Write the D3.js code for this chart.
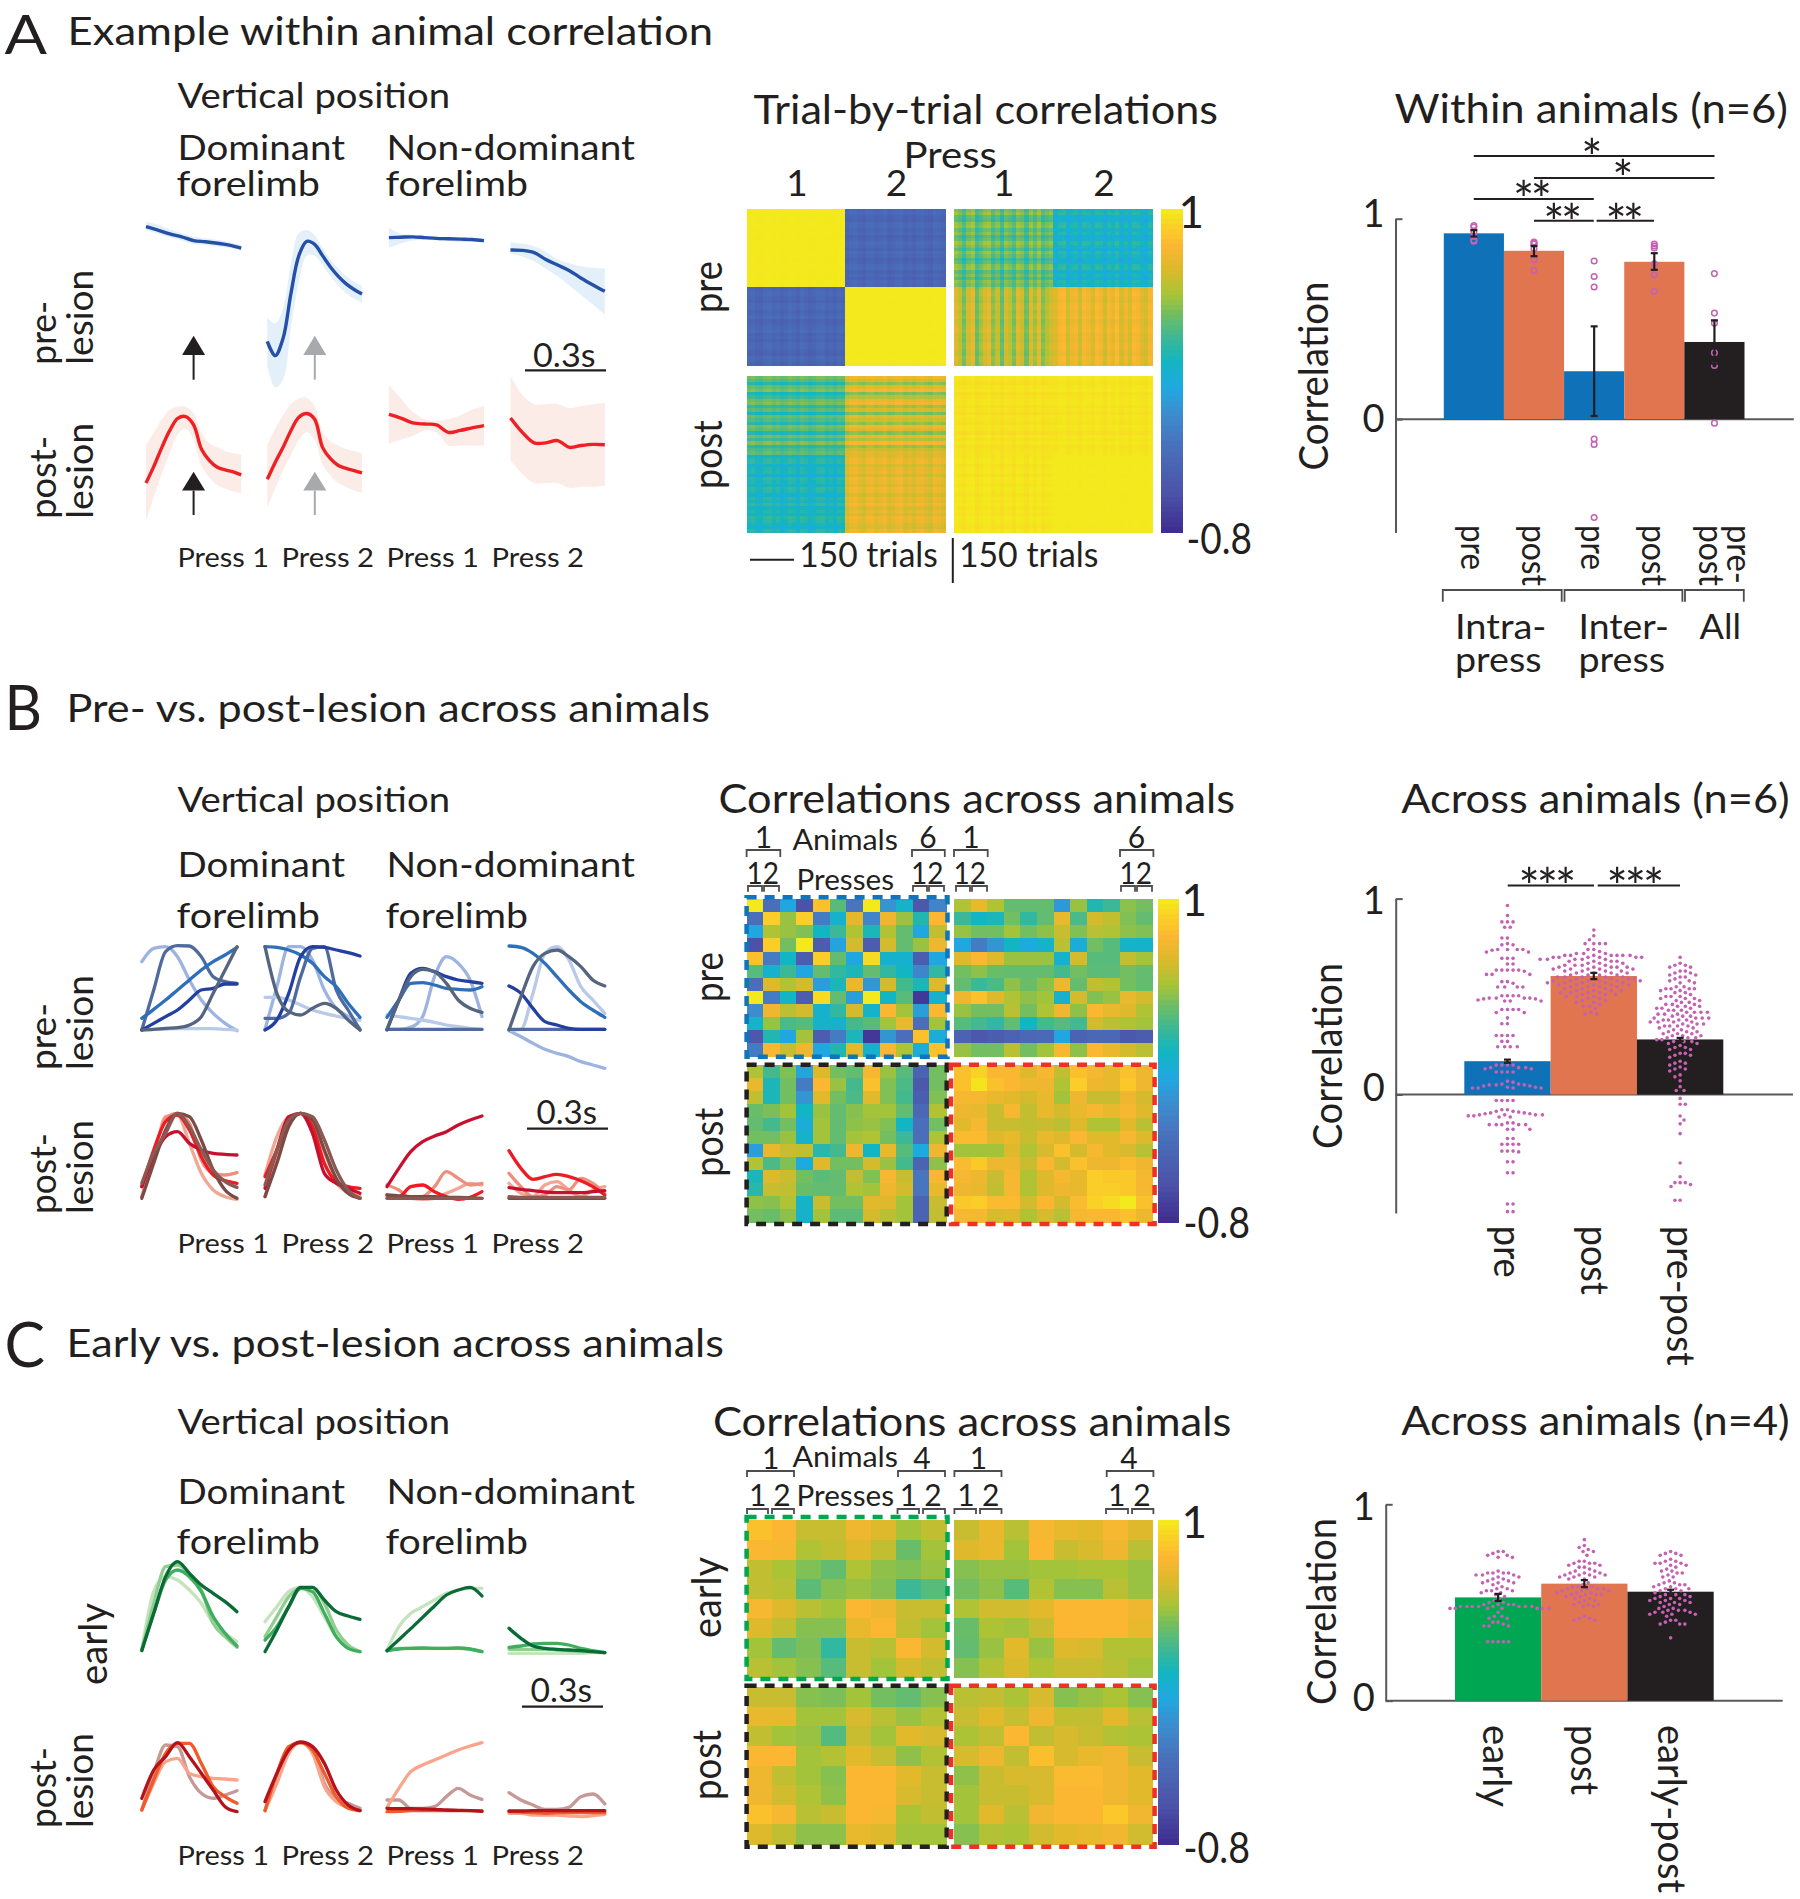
<!DOCTYPE html>
<html><head><meta charset="utf-8">
<script src="https://cdnjs.cloudflare.com/ajax/libs/d3/7.8.5/d3.min.js"></script>
<style>html,body{margin:0;padding:0;background:#fff}svg{display:block}text{font-family:Lato,"Open Sans",sans-serif;fill:#231f20}</style>
</head><body>
<script>
// ---------- colour map ----------
const cmapValues=[1,.91,.80,.68,.53,.42,.28,.15,.01,-.13,-.33,-.6,-.8];
const cmapColors=["#f3e91c","#fbcf27","#fbb632","#deb92b","#a8c437","#72be60","#3cb896","#12b5c3","#1ea9e0","#3a8fd0","#4a70bb","#4b52a8","#3f2f92"];

// ---------- panel A traces (relative depth readings, a.u.) ----------
const aPreMean=[[603,612,622,630,640,643,647,652,660],[908,946,900,780,680,642,650,680,710,735,755,770,782],[632,631,630,632,634,635,636,637,640],[665,666,672,690,705,720,740,758,775]];
const aPreUpper=[[590,598,610,620,630,634,638,644,652],[845,860,820,700,620,612,625,660,690,715,735,750,760],[605,622,625,628,630,632,632,634,636],[645,648,655,670,690,700,708,712,714]];
const aPreLower=[[612,622,632,640,650,652,656,660,666],[975,1030,1010,870,750,680,680,705,735,760,780,795,805],[660,648,640,638,640,642,644,644,646],[675,682,695,715,735,760,785,810,838]];
const aPostMean=[[1285,1240,1190,1145,1113,1108,1130,1195,1225,1243,1250,1255,1263],[1275,1230,1190,1145,1110,1100,1115,1190,1220,1238,1246,1252,1258],[1102,1112,1125,1128,1130,1150,1145,1138,1132],[1112,1150,1178,1178,1172,1190,1185,1182,1183]];
const aPostUpper=[[1185,1150,1115,1090,1082,1082,1100,1150,1180,1190,1200,1205,1210],[1185,1140,1105,1075,1060,1058,1080,1150,1175,1185,1195,1200,1205],[1025,1060,1095,1115,1120,1115,1105,1090,1080],[1000,1050,1075,1075,1075,1085,1080,1075,1072]];
const aPostLower=[[1385,1320,1260,1205,1155,1140,1170,1240,1270,1290,1300,1307,1312],[1350,1300,1250,1210,1170,1150,1170,1235,1265,1285,1295,1305,1312],[1180,1170,1160,1145,1150,1185,1185,1185,1185],[1225,1260,1285,1285,1285,1298,1295,1295,1292]];

// ---------- panel B traces ----------
const bluePalette=["#9db3e0","#b9c9ea","#4f6a9e","#2f6fba","#2340a0","#56657f"];
const bPreTraces=[
 [[605,565,560,590,660,720,760,790,812],[808,808,807,806,806,806,806,808,810],[810,690,575,557,558,590,650,665,670],[775,748,720,690,660,630,605,585,562],[810,790,770,750,720,690,685,672,672],[810,808,805,803,795,770,700,630,560]],
 [[808,680,560,560,600,690,745,770,805],[712,712,720,735,750,760,768,775,780],[775,775,760,650,565,560,690,750,810],[560,562,570,585,610,650,680,730,772],[810,780,700,590,560,562,570,578,588],[560,700,755,765,745,730,745,780,810]],
 [[808,808,802,770,650,590,610,660,770],[765,770,775,780,787,795,800,805,808],[808,808,808,808,808,808,808,808,808],[772,720,670,668,675,685,688,690,680],[810,720,640,625,635,650,660,665,670],[808,720,650,628,635,670,720,745,757]],
 [[812,830,850,868,880,890,905,915,925],[810,808,700,580,560,600,680,720,760],[808,808,808,808,808,808,808,808,808],[558,562,580,610,650,690,725,750,772],[678,700,745,785,795,805,808,808,808],[810,710,620,580,570,590,620,660,678]]
];
const redPalette=["#f2a795","#ee8f7d","#ed1c24","#c8102e","#7a4a46","#8a5a52"];
const bPostTraces=[
 [[1310,1200,1070,1065,1150,1240,1290,1310,1318],[1310,1190,1075,1060,1090,1200,1240,1245,1238],[1280,1170,1085,1065,1110,1190,1245,1262,1270],[1280,1190,1130,1115,1150,1170,1180,1183,1185],[1315,1210,1110,1060,1070,1140,1230,1290,1315],[1270,1180,1120,1060,1100,1170,1230,1265,1282]],
 [[1245,1130,1070,1060,1100,1210,1270,1300,1315],[1310,1190,1080,1060,1085,1175,1260,1295,1310],[1250,1170,1090,1060,1100,1210,1265,1280,1285],[1285,1170,1070,1060,1120,1240,1270,1285,1300],[1310,1210,1100,1060,1080,1170,1255,1300,1315],[1275,1170,1080,1060,1070,1140,1230,1290,1315]],
 [[1310,1310,1315,1318,1315,1300,1285,1270,1275],[1275,1290,1315,1310,1280,1235,1255,1275,1270],[1305,1310,1280,1275,1295,1310,1318,1312,1295],[1280,1225,1175,1145,1128,1115,1095,1080,1068],[1305,1308,1310,1310,1310,1312,1312,1314,1315],[1315,1315,1315,1315,1315,1315,1315,1315,1315]],
 [[1270,1300,1310,1275,1265,1290,1310,1290,1280],[1240,1280,1310,1305,1280,1290,1255,1270,1300],[1172,1225,1258,1250,1243,1250,1262,1280,1305],[1283,1288,1292,1296,1298,1298,1298,1295,1292],[1315,1315,1315,1315,1315,1315,1315,1315,1315],[1310,1312,1312,1312,1312,1312,1312,1312,1312]]
];
// ---------- panel C traces ----------
const greenPalette=["#c5e4bd","#8fce8e","#3fae5e","#0b6b36"];
const cEarlyTraces=[
 [[750,575,530,540,570,610,670,700,725],[750,610,500,495,520,570,670,710,742],[750,640,540,510,530,575,650,700,738],[752,640,530,485,520,555,580,605,635]],
 [[665,620,575,562,590,650,710,740,755],[710,650,590,565,562,610,690,735,755],[720,680,620,565,575,640,710,745,755],[755,690,620,562,562,600,635,648,658]],
 [[750,680,640,620,600,580,570,565,565],[752,745,745,745,745,745,745,748,755],[752,747,745,744,745,745,744,747,755],[752,719,686,652,618,585,570,562,588]],
 [[760,760,760,760,760,760,760,758,758],[748,748,748,748,750,752,755,755,758],[742,738,732,730,730,735,745,752,758],[685,715,738,745,748,750,752,755,758]]
];
const orangePalette=["#c59a96","#f9a58b","#f15a29","#b5121b"];
const cPostTraces=[
 [[1230,1120,1035,1040,1130,1180,1195,1185,1172],[1230,1150,1085,1075,1120,1130,1135,1137,1140],[1230,1140,1060,1030,1030,1090,1160,1190,1210],[1195,1110,1070,1028,1070,1120,1170,1220,1235]],
 [[1232,1130,1050,1028,1040,1150,1195,1210,1225],[1232,1150,1060,1028,1060,1160,1205,1222,1232],[1232,1120,1040,1028,1050,1120,1190,1225,1232],[1205,1120,1050,1026,1040,1090,1170,1215,1232]],
 [[1200,1200,1225,1225,1220,1190,1165,1185,1198],[1222,1165,1115,1095,1080,1065,1050,1038,1028],[1235,1234,1232,1232,1232,1232,1232,1232,1232],[1225,1226,1226,1227,1228,1230,1231,1232,1234]],
 [[1178,1200,1215,1228,1228,1222,1190,1182,1212],[1240,1240,1245,1245,1245,1248,1250,1247,1243],[1235,1236,1238,1240,1238,1238,1238,1238,1238],[1233,1233,1232,1232,1232,1232,1232,1232,1232]]
];

// ---------- panel A trial-by-trial matrix ----------
const trialBlockMeans=[[1,-.42,.36,.12],[-.42,1,.55,.72],[.3,.6,.97,.98],[.16,.7,.98,1]];
const trialRowStripe=[[.02,.25,.6,.5],[.25,.01,.2,.15],[.9,1.1,.1,.08],[.45,.35,.08,.02]];
const trialColStripe=[[.02,.25,.7,.5],[.25,.01,1.1,.6],[.25,.25,.08,.08],[.35,.35,.12,.02]];
const trialDevPre1=[.02,.1,-.06,-.1,.08,.12,-.04,.06,-.1,-.03,.12,.04,-.08,.1,.02,-.12,-.05,.09,.12,-.07,.03,-.1,.07,.01];
const trialDevPre2=[-.08,.04,.1,-.02,-.11,.07,.09,-.05,.02,.11,-.09,-.03,.06,.12,-.07,.01,-.1,.05,.08,-.04,-.12,.09,.03,-.06];
const trialDevPost1=[.1,.03,-.09,.06,.12,-.11,-.02,.08,.11,-.06,.04,-.12,.07,.02,-.08,.1,.05,-.1,.09,-.03,.12,-.07,.01,.06];
const trialDevPost2=[-.05,.08,.11,-.1,.02,.06,-.12,.09,.03,-.07,.1,.05,-.11,.07,-.02,.12,-.08,.04,-.09,.1,.06,-.04,-.1,.08];

// ---------- panel A bars ----------
const withinLabels=["pre","post","pre2","post2","pre-post"];
const withinMeans=[.927,.84,.239,.785,.385];
const withinErrHi=[.943,.864,.463,.828,.493];
const withinErrLo=[.911,.813,.016,.745,.277];
const withinColors=["#0f72b9","#e07550","#0f72b9","#e07550","#231f20"];
const withinDots=[[.966,.958,.933,.913,.893,.888],[.884,.88,.874,.85,.795,.742],[.789,.712,.659,-.099,-.126,-.491],[.874,.864,.854,.775,.72,.637],[.726,.529,.479,.331,.268,-.02]];

// ---------- panel B heat + bars ----------
const bHeatTL=[[1,-.35,0,-.6,.85,.35,-.3,1,-.1,.12,-.55,-.2],[-.35,.9,.5,.9,-.25,.12,.7,-.2,.75,.5,.2,.8],[0,.55,.5,.45,.15,.28,.55,.18,.55,.38,0,.6],[-.6,.9,.42,1,-.5,-.02,.65,-.5,.65,.38,.5,.75],[.85,-.25,.15,-.5,.9,.38,0,.95,.1,.1,-.5,0],[.35,.1,.28,0,.38,.25,.18,.38,.25,.15,-.2,.25],[-.35,.68,.55,.65,-.05,.18,.72,-.1,.65,.3,.18,.68],[1,-.25,.15,-.5,.95,.38,-.05,1,.15,.35,-.75,.1],[-.15,.75,.58,.65,.1,.25,.65,.12,.8,.52,-.05,.8],[.12,.5,.32,.35,.12,.12,.3,.35,.52,.72,-.35,.52],[-.55,.2,0,.52,-.5,-.25,.18,-.75,-.1,-.35,.85,.05],[-.25,.8,.62,.75,0,.2,.7,.1,.8,.55,.05,.85]];
const bHeatTR=[[.55,.72,.55,.38,.38,.38,-.08,.5,.2,.28,.47,.42],[.28,.15,.18,.42,.25,.38,.72,.32,.65,.6,.45,.38],[.5,.42,.42,.52,.42,.48,.62,.45,.58,.55,.48,.45],[0,-.25,-.1,.15,.02,.12,.58,.05,.42,.35,.12,.12],[.68,.8,.68,.5,.5,.5,.12,.65,.35,.35,.6,.52],[.42,.48,.4,.38,.38,.38,.3,.42,.36,.36,.42,.38],[.38,.28,.32,.48,.4,.48,.75,.38,.6,.55,.42,.38],[.75,.85,.68,.55,.48,.52,.1,.65,.45,.5,.72,.65],[.5,.42,.42,.58,.42,.55,.75,.48,.8,.72,.68,.55],[.35,.3,.25,.38,.15,.3,.35,.3,.65,.58,.55,.52],[-.45,-.55,-.5,-.45,-.4,-.38,0,-.45,-.4,-.4,-.55,-.5],[.5,.42,.42,.58,.42,.52,.78,.48,.8,.72,.65,.58]];
const bHeatBL=[[.55,.3,.45,-.02,.68,.42,.38,.78,.5,.35,-.45,.42],[.72,.18,.42,-.25,.8,.5,.3,.85,.45,.32,-.55,.42],[.6,.18,.42,-.1,.7,.42,.32,.7,.45,.3,-.5,.45],[.4,.44,.52,.15,.5,.38,.46,.52,.52,.38,-.4,.55],[.38,.3,.42,.05,.52,.38,.48,.5,.45,.15,-.35,.42],[.42,.42,.5,.12,.52,.38,.52,.55,.42,.28,-.35,.55],[-.05,.72,.62,.6,.22,.3,.75,.15,.72,.35,.02,.75],[.55,.32,.45,.02,.68,.42,.42,.65,.5,.3,-.45,.48],[.18,.68,.62,.42,.36,.38,.6,.45,.78,.62,-.3,.78],[.22,.62,.6,.4,.38,.38,.55,.52,.75,.65,-.3,.72],[.48,.46,.55,.12,.62,.42,.42,.7,.68,.52,-.45,.62],[.42,.4,.48,.12,.52,.36,.36,.65,.58,.52,-.45,.6]];
const bHeatBR=[[.85,.92,.8,.8,.68,.78,.6,.85,.78,.72,.85,.75],[.85,.98,.85,.8,.75,.75,.55,.9,.75,.72,.88,.75],[.78,.78,.72,.7,.65,.72,.52,.75,.62,.62,.75,.65],[.75,.72,.62,.78,.6,.72,.65,.72,.78,.72,.78,.68],[.7,.78,.62,.62,.6,.62,.58,.68,.55,.55,.7,.58],[.82,.82,.68,.72,.62,.72,.68,.8,.7,.7,.78,.68],[.52,.52,.52,.68,.55,.66,.85,.65,.78,.7,.66,.58],[.82,.88,.75,.75,.62,.8,.65,.85,.75,.75,.82,.75],[.78,.75,.62,.78,.55,.68,.78,.72,.9,.88,.88,.78],[.75,.72,.6,.78,.55,.68,.75,.72,.9,.9,.88,.78],[.88,.9,.82,.82,.65,.8,.65,.82,.92,.95,1,.85],[.78,.78,.66,.68,.55,.66,.58,.78,.8,.8,.85,.75]];
const bBarLabels=["pre","post","pre-post"];
const bBarMeans=[.17,.605,.281];
const bBarErr=[.008,.016,.008];
const bBarColors=["#0f72b9","#e07550","#231f20"];
const bDotsPre=[.965,.914,.881,.881,.881,.854,.854,.799,.799,.77,.764,.764,.74,.74,.74,.74,.736,.727,.727,.695,.695,.695,.666,.666,.635,.635,.635,.635,.635,.629,.613,.613,.613,.576,.576,.568,.549,.549,.549,.549,.504,.504,.504,.504,.492,.492,.492,.492,.488,.488,.482,.477,.477,.477,.434,.434,.434,.434,.418,.418,.391,.361,.361,.301,.301,.301,.301,.271,.271,.244,.244,.244,.244,.15,.15,.15,.15,.137,.137,.137,.131,.131,.115,.115,.115,.115,.068,.063,.053,.053,.049,.049,.049,.043,.043,.037,.037,.033,.033,.033,.033,-.031,-.031,-.031,-.031,-.078,-.078,-.086,-.086,-.09,-.094,-.094,-.098,-.098,-.104,-.104,-.104,-.104,-.109,-.109,-.115,-.115,-.145,-.145,-.154,-.154,-.154,-.154,-.154,-.178,-.178,-.178,-.225,-.225,-.254,-.254,-.254,-.254,-.289,-.289,-.289,-.293,-.344,-.344,-.4,-.4,-.559,-.559,-.598,-.598];
const bDotsPost=[.84,.81,.79,.77,.77,.77,.77,.74,.74,.73,.72,.72,.72,.71,.71,.71,.71,.71,.71,.71,.70,.70,.70,.70,.70,.70,.69,.69,.69,.69,.69,.68,.68,.68,.68,.67,.67,.67,.66,.66,.66,.66,.65,.65,.65,.65,.65,.64,.64,.64,.64,.64,.63,.63,.63,.63,.62,.62,.62,.62,.61,.61,.61,.61,.60,.60,.60,.60,.60,.59,.59,.59,.59,.59,.58,.58,.58,.58,.58,.58,.57,.57,.57,.57,.57,.56,.56,.56,.56,.56,.55,.55,.55,.55,.54,.54,.54,.53,.53,.53,.53,.52,.52,.52,.52,.51,.51,.51,.50,.50,.50,.49,.49,.48,.48,.47,.47,.46,.45,.45,.44,.42,.41,.41];
const bDotsPrePost=[.70,.67,.66,.66,.65,.65,.63,.63,.62,.62,.61,.61,.6,.6,.59,.58,.58,.57,.57,.55,.55,.54,.54,.54,.54,.53,.53,.52,.52,.51,.5,.5,.5,.49,.49,.49,.48,.48,.47,.47,.46,.46,.46,.45,.45,.45,.44,.44,.44,.43,.43,.43,.42,.42,.42,.42,.41,.41,.41,.4,.4,.4,.39,.39,.39,.39,.38,.38,.38,.38,.37,.37,.37,.37,.36,.36,.36,.35,.35,.35,.35,.34,.34,.33,.33,.32,.32,.32,.31,.31,.31,.3,.3,.3,.29,.29,.29,.28,.28,.28,.27,.27,.27,.26,.26,.25,.24,.24,.23,.23,.21,.21,.2,.2,.19,.17,.16,.16,.15,.14,.13,.13,.12,.1,.09,.07,.04,.02,.02,-.02,-.05,-.05,-.11,-.13,-.15,-.2,-.35,-.42,-.45,-.45,-.45,-.46,-.47,-.54,-.54];
const bDotSpacing=[5.6,5.8,5.2];

// ---------- panel C heat + bars ----------
const cHeatTL=[[.85,.8,.62,.62,.75,.68,.52,.6],[.8,.78,.55,.6,.68,.6,.4,.52],[.6,.54,.45,.38,.55,.48,.45,.5],[.6,.58,.36,.46,.5,.46,.28,.35],[.78,.68,.58,.52,.8,.75,.62,.62],[.68,.6,.46,.46,.72,.8,.6,.52],[.52,.38,.44,.25,.62,.58,.8,.65],[.58,.52,.46,.35,.62,.52,.65,.6]];
const cHeatTR=[[.62,.72,.58,.78,.72,.7,.78,.68],[.68,.72,.52,.8,.62,.66,.75,.58],[.46,.5,.5,.52,.52,.54,.54,.5],[.42,.48,.35,.55,.46,.46,.58,.5],[.55,.64,.64,.7,.8,.8,.8,.75],[.4,.54,.52,.62,.8,.8,.8,.72],[.38,.5,.7,.5,.68,.66,.56,.56],[.46,.56,.66,.55,.62,.62,.58,.52]];
const cHeatBL=[[.62,.62,.46,.44,.52,.42,.38,.46],[.72,.72,.52,.52,.66,.58,.5,.56],[.6,.52,.5,.34,.62,.52,.7,.66],[.8,.8,.52,.56,.7,.62,.48,.56],[.75,.6,.52,.46,.8,.8,.7,.62],[.75,.64,.55,.48,.8,.8,.66,.62],[.85,.78,.58,.62,.8,.78,.54,.6],[.68,.6,.48,.48,.72,.68,.52,.52]];
const cHeatBR=[[.58,.6,.54,.66,.46,.5,.54,.46],[.62,.7,.62,.74,.6,.6,.7,.58],[.54,.6,.8,.6,.66,.62,.56,.54],[.66,.74,.6,.84,.66,.72,.76,.62],[.48,.62,.66,.66,.82,.82,.76,.7],[.52,.62,.62,.66,.8,.8,.76,.7],[.52,.7,.58,.76,.8,.8,.88,.76],[.46,.56,.54,.64,.7,.72,.76,.64]];
const cBarLabels=["early","post","early-post"];
const cBarMeans=[.526,.596,.555];
const cBarErr=[.018,.018,.01];
const cBarColors=["#00a651","#e07550","#231f20"];
const cDotsEarly=[.76,.76,.75,.74,.74,.73,.73,.66,.65,.65,.65,.65,.64,.64,.64,.63,.63,.62,.62,.61,.61,.6,.6,.6,.59,.58,.57,.57,.56,.56,.56,.55,.55,.54,.53,.52,.51,.5,.5,.49,.49,.49,.49,.48,.48,.48,.48,.48,.48,.48,.48,.47,.47,.47,.47,.47,.47,.47,.45,.43,.43,.42,.42,.4,.4,.39,.38,.38,.38,.3,.3,.3,.3,.3];
const cDotsPost=[.82,.79,.78,.77,.76,.76,.74,.71,.71,.7,.7,.7,.69,.69,.68,.68,.67,.66,.66,.65,.65,.65,.64,.64,.64,.64,.63,.63,.63,.62,.62,.6,.59,.58,.58,.58,.57,.57,.57,.57,.56,.56,.56,.55,.55,.55,.54,.54,.54,.54,.53,.53,.52,.52,.51,.51,.5,.49,.49,.49,.48,.48,.43,.42,.42,.41,.41];
const cDotsEarlyPost=[.76,.75,.75,.74,.74,.72,.71,.71,.7,.7,.7,.69,.69,.68,.67,.66,.66,.65,.65,.64,.63,.63,.61,.6,.6,.59,.59,.59,.58,.58,.57,.57,.57,.56,.56,.55,.55,.54,.54,.54,.53,.53,.52,.52,.52,.51,.51,.51,.5,.5,.5,.49,.49,.48,.47,.47,.46,.46,.46,.45,.45,.45,.44,.44,.44,.43,.41,.41,.4,.39,.39,.39,.32];

const pressLabels=["Press 1","Press 2","Press 1","Press 2"];

// ---------- helpers ----------
const svg=d3.select("body").append("svg").attr("width",1800).attr("height",1899);
const heatColor=d3.scaleLinear().domain(cmapValues).range(cmapColors).clamp(true);
function T(s,x,y,size,len,rot){
  const t=svg.append("text").attr("font-size",size).text(s);
  if(rot!=null) t.attr("transform",`translate(${x},${y}) rotate(${rot})`);
  else t.attr("x",x-1.5).attr("y",y);
  if(len) t.attr("textLength",rot!=null?len:len+1.5).attr("lengthAdjust","spacingAndGlyphs");
  return t;
}
function C(s,x,y,size){return svg.append("text").attr("x",x).attr("y",y).attr("font-size",size).attr("text-anchor","middle").text(s);}
function line(x0,y0,x1,y1,c,w){svg.append("line").attr("x1",x0).attr("y1",y0).attr("x2",x1).attr("y2",y1).attr("stroke",c||"#231f20").attr("stroke-width",w||2);}
function bracket(x0,x1,yTop,yBot,w){svg.append("path").attr("d",`M${x0},${yBot}V${yTop}H${x1}V${yBot}`).attr("fill","none").attr("stroke","#4d4d4f").attr("stroke-width",w||1.8);}
function stars(s,x,yc,ls){C(s,x,yc+29,50).attr("letter-spacing",ls||0);}
function arrow(x,yTop,yBase,yEnd,c){
  line(x,yBase,x,yEnd,c,2);
  svg.append("path").attr("d",`M${x},${yTop}L${x+11.5},${yBase}H${x-11.5}Z`).attr("fill",c);
}
const curve=d3.curveCatmullRom.alpha(0.5);
function traces(panels,y,rows,palette,w){
  rows.forEach((lines,p)=>{
    const x=d3.scaleLinear().domain([0,lines[0].length-1]).range(panels[p]);
    const gen=d3.line().x((d,i)=>x(i)).y(d=>y(d)).curve(d3.curveMonotoneX);
    svg.append("g").selectAll("path").data(lines).join("path")
      .attr("d",gen).attr("fill","none").attr("stroke",(d,i)=>palette[i]).attr("stroke-width",w).attr("stroke-linecap","round");
  });
}
function bands(panels,y,mean,lo,hi,fill,stroke,w){
  mean.forEach((m,p)=>{
    const x=d3.scaleLinear().domain([0,m.length-1]).range(panels[p]);
    svg.append("path").datum(m).attr("fill",fill)
      .attr("d",d3.area().x((d,i)=>x(i)).y0((d,i)=>y(lo[p][i])).y1((d,i)=>y(hi[p][i])).curve(curve));
    svg.append("path").datum(m).attr("fill","none").attr("stroke",stroke).attr("stroke-width",w)
      .attr("d",d3.line().x((d,i)=>x(i)).y(d=>y(d)).curve(curve));
  });
}
function heat(matrix,x0,x1,y0,y1){
  const bx=d3.scaleBand().domain(d3.range(matrix[0].length)).range([x0,x1]);
  const by=d3.scaleBand().domain(d3.range(matrix.length)).range([y0,y1]);
  const g=svg.append("g").attr("shape-rendering","crispEdges");
  matrix.forEach((row,r)=>{
    g.append("g").selectAll("rect").data(row).join("rect")
      .attr("x",(d,c)=>bx(c)).attr("y",by(r)).attr("width",bx.bandwidth()+.6).attr("height",by.bandwidth()+.6)
      .attr("fill",d=>heatColor(d));
  });
}
function colorbar(x0,x1,y0,y1){
  const v=d3.range(64);
  const s=d3.scaleLinear().domain([0,63]).range([1,-.8]);
  const by=d3.scaleBand().domain(v).range([y0,y1]);
  svg.append("g").attr("shape-rendering","crispEdges").selectAll("rect").data(v).join("rect")
    .attr("x",x0).attr("width",x1-x0).attr("y",d=>by(d)).attr("height",by.bandwidth()+.6).attr("fill",d=>heatColor(s(d)));
}
function dashRect(x0,x1,y0,y1,c){svg.append("rect").attr("x",x0).attr("y",y0).attr("width",x1-x0).attr("height",y1-y0).attr("fill","none").attr("stroke",c).attr("stroke-width",4.5).attr("stroke-dasharray","10 8");}
function yAxis(y,x,tickFs,right,dy0,dy1){
  const g=svg.append("g").attr("transform",`translate(${x},0)`).call(d3.axisLeft(y).tickValues([0,1]).tickSizeOuter(0).tickSizeInner(-7).tickPadding(11).tickFormat(d3.format("d")));
  g.select(".domain").attr("stroke","#58595b").attr("stroke-width",2);
  g.selectAll(".tick line").attr("stroke","#58595b").attr("stroke-width",2);
  g.selectAll(".tick text").attr("font-size",tickFs).attr("font-family","Lato").attr("fill","#231f20")
    .attr("y",d=>d===0?dy0:dy1);
  line(x,y(0),right,y(0),"#58595b",2);
}
function swarm(values,cx,y,spacing){
  const placed=[];
  const out=[];
  values.slice().sort((a,b)=>b-a).forEach((v,idx)=>{
    const py=y(v);let dx=0,k=0;
    const sign=idx%2?1:-1;
    while(true){
      const cand=k===0?0:(k%2?sign:-sign)*Math.ceil(k/2)*spacing/4;
      if(placed.every(p=>Math.hypot(p[0]-cand,p[1]-py)>=spacing)){dx=cand;break;}
      k++;
    }
    placed.push([dx,py]);out.push({x:cx+dx,y:py});
  });
  return out;
}
function bars(x,y,labels,means,colors){
  svg.append("g").selectAll("rect").data(means).join("rect")
    .attr("x",(d,i)=>x(labels[i])).attr("width",x.bandwidth())
    .attr("y",d=>Math.min(y(d),y(0))).attr("height",d=>Math.abs(y(d)-y(0)))
    .attr("fill",(d,i)=>colors[i]);
}
function errs(x,y,labels,hi,lo,capW){
  labels.forEach((l,i)=>{
    const c=x(l)+x.bandwidth()/2;
    line(c,y(hi[i]),c,y(lo[i]),"#231f20",2.2);
    line(c-capW,y(hi[i]),c+capW,y(hi[i]),"#231f20",2.2);
    line(c-capW,y(lo[i]),c+capW,y(lo[i]),"#231f20",2.2);
  });
}

// ---------- section titles ----------
T("A",6,53.5,54,41);T("Example within animal correlation",69,45,39,644);
T("B",6,730,62,36);T("Pre- vs. post-lesion across animals",68,722,39,642);
T("C",6,1367,62,39);T("Early vs. post-lesion across animals",68,1357,39,656);

// ---------- left column ----------
function leftHead(yV,yD,yF){
  T("Vertical position",179,yV,34,271);
  T("Dominant",179,yD,34,166);T("forelimb",178,yF,34,142);
  T("Non-dominant",388,yD,34,247);T("forelimb",387,yF,34,141);
}
leftHead(108,160,195.5);leftHead(811.7,877,927.7);leftHead(1434,1504,1554);
function press(y){pressLabels.forEach((s,i)=>T(s,[179,283,388,493][i],y,27.5,[90,91,91,91][i]));}
press(567);press(1252.7);press(1865);
function scale03(x0,x1,yl,tx,tw,ty){line(x0,yl,x1,yl,"#231f20",2.2);T("0.3s",tx,ty,33,tw);}
scale03(525,606,370.3,534.5,61,366.5);scale03(527,608,1128.7,538,59,1124);scale03(522,603,1706.7,532,60,1701.7);

T("pre-",56,364.7,36,64,-90);T("lesion",93.4,364.7,36,95,-90);
T("post-",56,518.8,36,83,-90);T("lesion",93.4,518.8,36,96,-90);
T("pre-",56,1070,36,67,-90);T("lesion",93.4,1070,36,95,-90);
T("post-",56,1214,36,81,-90);T("lesion",93.4,1214,36,94,-90);
T("early",107,1685,38,82,-90);
T("post-",56,1828,36,81,-90);T("lesion",93.4,1828,36,95,-90);

const panelsA=[[146,241.2],[267.3,362],[388.9,484],[510.5,604.8]];
const panelsBC=[[141.8,237],[265,360],[387,482],[509,604.8]];
const yA=d3.scaleLinear().domain([0,1400]).range([0,1400/2.66]);
bands(panelsA,yA,aPreMean,aPreLower,aPreUpper,"#e4f0f9","#2450a8",3.4);
bands(panelsA,yA,aPostMean,aPostLower,aPostUpper,"#fbece7","#ee2024",3.4);
arrow(193.6,335.7,355,379.7,"#231f20");arrow(314.8,335.7,355,379.7,"#a7a9ac");
arrow(193.6,471.8,490.6,515,"#231f20");arrow(314.8,471.8,490.6,515,"#a7a9ac");
const yB=d3.scaleLinear().domain([0,1500]).range([760,1260]);
const yC=d3.scaleLinear().domain([0,1500]).range([1400,1900]);
traces(panelsBC,yB,bPreTraces,bluePalette,3.3);
traces(panelsBC,yB,bPostTraces,redPalette,3.3);
traces(panelsBC,yC,cEarlyTraces,greenPalette,3.3);
traces(panelsBC,yC,cPostTraces,orangePalette,3.3);

// ---------- A matrix ----------
const devs=[trialDevPre1,trialDevPre2,trialDevPost1,trialDevPost2];
const xEdges=[[747,845],[845,945],[954,1053.4],[1053.4,1152.5]];
const yEdges=[[209,286.6],[286.6,365.5],[375.5,454.5],[454.5,532.4]];
trialBlockMeans.forEach((row,r)=>row.forEach((m,c)=>{
  const matrix=devs[r].map(a=>devs[c].map(b=>m+a*trialRowStripe[r][c]*1.3+b*trialColStripe[r][c]*1.3));
  heat(matrix,xEdges[c][0],xEdges[c][1],yEdges[r][0],yEdges[r][1]);
}));
colorbar(1161.3,1182.8,209,532.4);
T("Trial-by-trial correlations",755,123.5,41,463);
T("Press",905,167.5,37,92);
[["1",797],["2",896.5],["1",1003.7],["2",1104]].forEach(d=>C(d[0],d[1],195.9,37));
T("pre",722,313,40,52,-90);T("post",722,489,40,69,-90);
line(750,559.7,794,559.7,"#231f20",2);T("150 trials",800.8,566.6,35,137);
line(952.8,538,952.8,583,"#231f20",2);T("150 trials",960.4,566.6,35,138);
T("1",1180,228,44);T("-0.8",1188,554,42,64);

// ---------- B matrix ----------
heat(bHeatTL,746.6,946,899.3,1056);heat(bHeatTR,954.4,1152.6,899.3,1056);
heat(bHeatBL,746.6,946,1065.3,1222);heat(bHeatBR,954.4,1152.6,1065.3,1222);
dashRect(746.6,947.5,897.3,1056.7,"#0f75bd");dashRect(746.6,946.7,1064.7,1224,"#231f20");dashRect(951,1154.6,1064.7,1224,"#ee3124");
colorbar(1157.6,1178.7,899.3,1222);
T("Correlations across animals",720,813,41,515);
[["1",763.4],["6",928],["1",970.9],["6",1136.5]].forEach(d=>C(d[0],d[1],848,30));
T("Animals",794,850,28,104);T("Presses",798,890,28,96);
[748,912.5,955,1121].forEach(x=>{T("12",x,884,30,31);});
[[746.6,780.3],[912,944.8],[954,987.7],[1120,1153.4]].forEach(d=>bracket(d[0],d[1],850,857));
[[748,762],[764,779],[913,927],[929,944],[956,970],[972,987],[1121,1135],[1137,1152]].forEach(d=>bracket(d[0],d[1],886,891.7));
T("pre",723,1002,40,50,-90);T("post",723,1176.7,40,69,-90);
T("1",1183,916,44);T("-0.8",1185,1237.5,42,65);

// ---------- C matrix ----------
heat(cHeatTL,746.6,946,1520.3,1677.3);heat(cHeatTR,954.4,1152.6,1520.3,1677.3);
heat(cHeatBL,746.6,946,1687,1844);heat(cHeatBR,954.4,1152.6,1687,1844);
dashRect(746.6,947.5,1517,1679,"#00a651");dashRect(746.6,946.7,1685.7,1846.7,"#231f20");dashRect(951,1154.6,1685.7,1846.7,"#ee3124");
colorbar(1157.6,1178.7,1520.3,1844);
T("Correlations across animals",714.4,1436,41,517);
[["1",770.7],["4",921.9],["1",978.5],["4",1129]].forEach(d=>C(d[0],d[1],1469,30));
T("Animals",794,1466.7,28,104);T("Presses",798,1505.5,28,96);
[["1",757.7],["2",782],["1",908.5],["2",933],["1",965.9],["2",990.8],["1",1116.7],["2",1142]].forEach(d=>C(d[0],d[1],1505.5,30));
[[747,794],[898,945],[954.4,1001.5],[1106.7,1153.4]].forEach(d=>bracket(d[0],d[1],1471,1477));
[[747,768],[772,794],[897.5,919],[923,945],[954.4,976],[980,1001.5],[1106,1128],[1132,1153.4]].forEach(d=>bracket(d[0],d[1],1509,1514));
T("early",721,1638,40,81,-90);T("post",721,1800,40,70,-90);
T("1",1183,1538,44);T("-0.8",1185,1862.5,42,65);

// ---------- A bars ----------
{
  const y=d3.scaleLinear().domain([-.566,1]).range([532.6,218.7]);
  const x=d3.scaleBand().domain(withinLabels).range([1443.8,1744.5]);
  yAxis(y,1395.5,38,1793.8,0,-4);
  bars(x,y,withinLabels,withinMeans,withinColors);
  withinDots.forEach((vals,i)=>{
    svg.append("g").selectAll("circle").data(vals).join("circle")
      .attr("cx",x(withinLabels[i])+x.bandwidth()/2).attr("cy",d=>y(d)).attr("r",2.8)
      .attr("fill","none").attr("stroke","#c561b2").attr("stroke-width",1.5);
  });
  errs(x,y,withinLabels,withinErrHi,withinErrLo,3.5);
  T("Correlation",1328,470.5,40,189,-90);
  T("Within animals (n=6)",1396,122.7,41,392);
  line(1473.8,155.9,1714.5,155.9);line(1534,178,1714.5,178);line(1473.8,199,1593.8,199);line(1534,220.7,1593.8,220.7);line(1596.6,220.7,1654,220.7);
  stars("*",1592,147);stars("*",1622.8,167.7);stars("**",1530.7,188.7,-3.5);stars("**",1561,211.6,-3.5);stars("**",1622.7,211.6,-4);
  [["pre",1461,45],["post",1522,61],["pre",1581,45],["post",1642,61],["post",1699,61],["pre-",1727,59]].forEach(d=>T(d[0],d[1],525,34,d[2],90));
  bracket(1442.8,1561.7,590,601.7);bracket(1564.5,1682.4,590,601.7);bracket(1685,1743.8,590,601.7);
  T("Intra-",1456.5,639,35,90);T("press",1456.5,672,35,85);T("Inter-",1580,639,35,89);T("press",1580,672,35,85);T("All",1701,639,35,40);
}
// ---------- B bars ----------
{
  const y=d3.scaleLinear().domain([-.605,1]).range([1213,898.6]);
  const x=d3.scaleBand().domain(bBarLabels).range([1464.3,1723.3]);
  yAxis(y,1395.7,38,1793,-6,2.5);
  bars(x,y,bBarLabels,bBarMeans,bBarColors);
  [bDotsPre,bDotsPost,bDotsPrePost].forEach((vals,i)=>{
    const pts=swarm(vals,x(bBarLabels[i])+x.bandwidth()/2,y,bDotSpacing[i]);
    svg.append("g").selectAll("circle").data(pts).join("circle").attr("cx",d=>d.x).attr("cy",d=>d.y).attr("r",1.8).attr("fill","#c561b2");
  });
  errs(x,y,bBarLabels,bBarMeans.map((m,i)=>m+bBarErr[i]),bBarMeans.map((m,i)=>m-bBarErr[i]),3.5);
  T("Correlation",1342,1149,40,186,-90);
  T("Across animals (n=6)",1402.7,812.5,41,387);
  line(1507.7,885.6,1594,885.6);line(1597.7,885.6,1680,885.6);
  stars("***",1546,875.7,-3);stars("***",1634,875.7,-3);
  [["pre",1494,52],["post",1581,69],["pre-post",1667,140]].forEach(d=>T(d[0],d[1],1225.8,38,d[2],90));
}
// ---------- C bars ----------
{
  const y=d3.scaleLinear().domain([0,1]).range([1700.7,1504.3]);
  const x=d3.scaleBand().domain(cBarLabels).range([1455,1713.7]);
  yAxis(y,1385.7,38,1782.7,-2.5,3.5);
  bars(x,y,cBarLabels,cBarMeans,cBarColors);
  [cDotsEarly,cDotsPost,cDotsEarlyPost].forEach((vals,i)=>{
    const pts=swarm(vals,x(cBarLabels[i])+x.bandwidth()/2,y,5.2);
    svg.append("g").selectAll("circle").data(pts).join("circle").attr("cx",d=>d.x).attr("cy",d=>d.y).attr("r",1.8).attr("fill","#c561b2");
  });
  errs(x,y,cBarLabels,cBarMeans.map((m,i)=>m+cBarErr[i]),cBarMeans.map((m,i)=>m-cBarErr[i]),3.5);
  T("Correlation",1336,1705,40,187,-90);
  T("Across animals (n=4)",1402.7,1435,41,387);
  [["early",1483,82],["post",1571,70],["early-post",1658,168]].forEach(d=>T(d[0],d[1],1725,38,d[2],90));
}
</script>
</body></html>
